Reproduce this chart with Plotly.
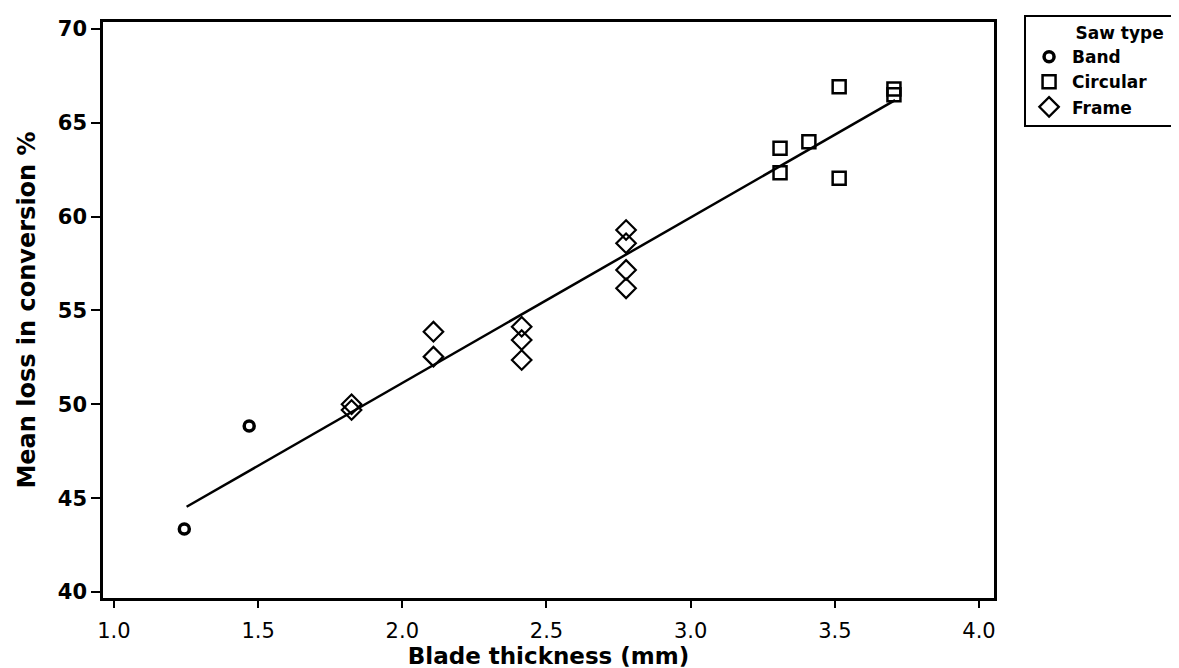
import plotly.graph_objects as go

# Data
band_x = [1.244, 1.469]
band_y = [43.36, 48.84]

circular_x = [3.31, 3.31, 3.41, 3.515, 3.515, 3.705, 3.705]
circular_y = [63.64, 62.34, 63.99, 66.92, 62.04, 66.8, 66.5]

frame_x = [1.824, 1.824, 2.108, 2.108, 2.414, 2.414, 2.414, 2.776, 2.776, 2.776, 2.776]
frame_y = [50.0, 49.7, 53.87, 52.54, 54.13, 53.43, 52.36, 59.29, 58.58, 57.16, 56.18]

fit_x = [1.252, 3.709]
fit_y = [44.54, 66.21]

x_ticks = [1.0, 1.5, 2.0, 2.5, 3.0, 3.5, 4.0]
x_tick_labels = ["1.0", "1.5", "2.0", "2.5", "3.0", "3.5", "4.0"]
y_ticks = [40, 45, 50, 55, 60, 65, 70]

FONT = "DejaVu Sans"
NB = "\u00a0"

fig = go.Figure()

fig.add_trace(go.Scatter(
    x=fit_x, y=fit_y, mode="lines",
    line=dict(color="black", width=2.5),
    showlegend=False, hoverinfo="skip"))

fig.add_trace(go.Scatter(
    x=band_x, y=band_y, mode="markers", name="Band",
    marker=dict(symbol="circle-open", size=10, color="black",
                line=dict(width=3.5, color="black"))))

fig.add_trace(go.Scatter(
    x=circular_x, y=circular_y, mode="markers", name="Circular",
    marker=dict(symbol="square-open", size=13, color="black",
                line=dict(width=2.5, color="black"))))

fig.add_trace(go.Scatter(
    x=frame_x, y=frame_y, mode="markers", name="Frame",
    marker=dict(symbol="diamond-open", size=15, color="black",
                line=dict(width=2.2, color="black"))))

fig.update_layout(
    width=1179, height=668,
    paper_bgcolor="white", plot_bgcolor="white",
    margin=dict(l=95, r=193, t=14, b=78, autoexpand=False),
    font=dict(family=FONT, color="black"),
    xaxis=dict(
        range=[0.962, 4.052],
        tickvals=x_ticks, ticktext=x_tick_labels,
        ticks="outside", ticklen=7, tickwidth=2, tickcolor="black",
        ticklabelstandoff=5,
        showline=True, linewidth=2.5, linecolor="black", mirror=True,
        showgrid=False, zeroline=False,
        tickfont=dict(size=21, family=FONT, color="black"),
        title=dict(text="<b>Blade thickness (mm)</b>", standoff=1,
                   font=dict(size=23, family=FONT, color="black")),
    ),
    yaxis=dict(
        range=[39.68, 70.37],
        tickvals=y_ticks,
        ticks="outside", ticklen=9, tickwidth=2, tickcolor="black",
        showline=True, linewidth=2.5, linecolor="black", mirror=True,
        showgrid=False, zeroline=False,
        tickfont=dict(size=21, family=FONT, color="black", weight="bold"),
        title=dict(text="<b>Mean loss in conversion %</b>", standoff=16,
                   font=dict(size=24, family=FONT, color="black")),
    ),
    legend=dict(
        xref="container", yref="container",
        x=0.8618, xanchor="left", y=0.9895, yanchor="top",
        bordercolor="black", borderwidth=2, bgcolor="white",
        font=dict(size=17, family=FONT, color="black", weight="bold"),
        title=dict(text=NB * 8 + "<b>Saw type</b>" + NB * 10, side="top",
                   font=dict(size=17, family=FONT, color="black")),
        tracegroupgap=0, itemwidth=36,
    ),
)

fig.write_html("out.html")
